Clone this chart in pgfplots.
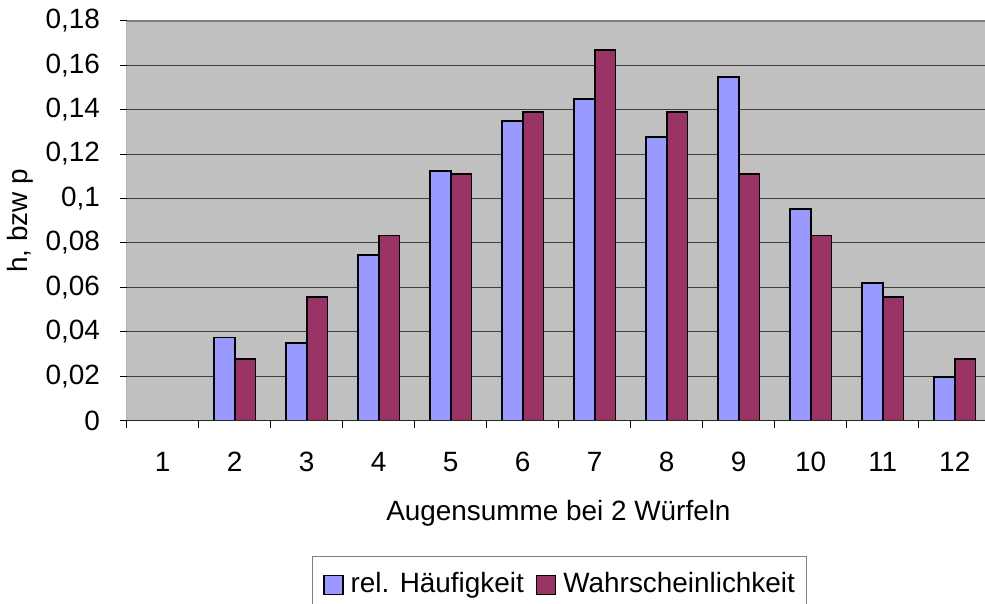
\documentclass[border=0pt]{standalone}
\usepackage{fontspec}
\setmainfont{Liberation Sans}
\usepackage{pgfplots}
\pgfplotsset{compat=1.18}
\definecolor{bgray}{HTML}{C0C0C0}
\definecolor{hblue}{HTML}{9999FF}
\definecolor{wred}{HTML}{993366}
\begin{document}
\fontsize{14}{16.5}\selectfont
\begin{tikzpicture}
\begin{axis}[
  at={(0,0)}, anchor=south west,
  scale only axis, width=429.15bp, height=200bp,
  xmin=0.5, xmax=12.42, ymin=0, ymax=0.18,
  ybar=0pt, bar width=0.29,
  axis background/.style={fill=bgray},
  axis line style={draw=none},
  ytick={0,0.02,0.04,0.06,0.08,0.1,0.12,0.14,0.16,0.18},
  ymajorgrids, grid style={black!75, line width=0.5bp},
  xtick={0.5,1.5,2.5,3.5,4.5,5.5,6.5,7.5,8.5,9.5,10.5,11.5},
  xticklabels={1,2,3,4,5,6,7,8,9,10,11,12},
  xtick pos=bottom, ytick pos=left,
  tick align=outside, major tick length=3.5bp,
  tick style={black, line width=0.5bp},
  x tick label style={xshift=18bp, yshift=-7.3bp},
  y tick label style={xshift=-5bp},
  /pgf/number format/.cd, use comma, fixed, precision=2, assume math mode=true, /pgfplots/.cd,
  ylabel={h, bzw p},
  ylabel style={at={(axis description cs:-0.1243,0.5)}, anchor=center},
  xlabel={Augensumme bei 2 Würfeln},
  xlabel style={at={(axis description cs:0.503,-0.231)}, anchor=center},
  legend columns=2,
  legend style={at={(0.5037,-0.339)}, anchor=north, draw=gray, fill=white,
    font=\fontsize{14}{16.5}\selectfont, inner xsep=5.5bp, inner ysep=6bp,
    nodes={inner xsep=0pt},
    /tikz/every odd column/.append style={column sep=3.5bp},
    /tikz/every even column/.append style={column sep=6bp}},
  legend image code/.code={\draw[#1,draw=black,line width=0.8bp] (0bp,-4.75bp) rectangle (9.5bp,4.75bp);},
]
\addplot[fill=hblue, draw=black, line width=0.8bp] coordinates {
  (1,0) (2,0.0375) (3,0.0351) (4,0.0746) (5,0.1124) (6,0.1349)
  (7,0.1448) (8,0.1278) (9,0.1547) (10,0.0953) (11,0.0620) (12,0.0197)};
\addlegendentry{rel. Häufigkeit}
\addplot[fill=wred, draw=black, line width=0.8bp] coordinates {
  (1,0) (2,0.0278) (3,0.0556) (4,0.0833) (5,0.1111) (6,0.1389)
  (7,0.1667) (8,0.1389) (9,0.1111) (10,0.0833) (11,0.0556) (12,0.0278)};
\addlegendentry{Wahrscheinlichkeit}
\draw[gray, line width=0.8bp] (rel axis cs:0,1) -- (rel axis cs:1,1);
\draw[black!85, line width=0.6bp] (rel axis cs:0,0) -- (rel axis cs:1,0);
\draw[black!85, line width=0.6bp] (rel axis cs:0,0) -- (rel axis cs:0,1);
\end{axis}
\pgfresetboundingbox
\path[use as bounding box] (-63.35bp,-91.65bp) rectangle (429.15bp,210.35bp);
\end{tikzpicture}
\end{document}
